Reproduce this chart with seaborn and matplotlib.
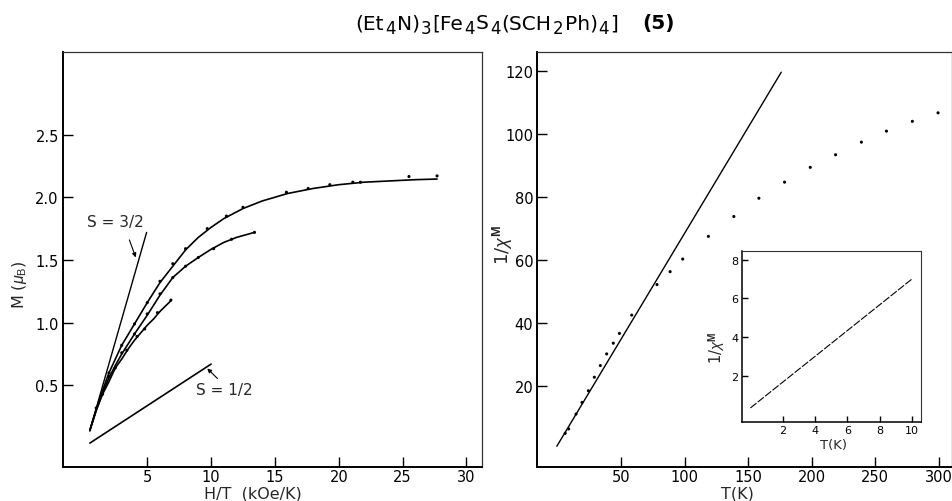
import numpy as np
import pandas as pd
import matplotlib
matplotlib.use("Agg")
import matplotlib.pyplot as plt
import seaborn as sns

# ---- magnetization M vs H/T (three fitted curves + measured points) ----
fit_hi_x = [0.5, 1.0, 1.5, 2.0, 2.5, 3.0, 4.0, 5.0, 6.0, 7.0, 8.0, 9.0, 10.0,
            11.0, 12.5, 14.0, 16.0, 18.0, 20.0, 22.0, 24.0, 26.0, 27.7]
fit_hi_y = [0.14, 0.31, 0.46, 0.60, 0.71, 0.82, 0.99, 1.16, 1.32, 1.45, 1.58,
            1.68, 1.76, 1.83, 1.91, 1.97, 2.03, 2.07, 2.10, 2.12, 2.13, 2.14, 2.145]
pts_hi_x = [1.0, 2.0, 3.0, 4.0, 5.0, 6.0, 7.0, 8.0, 9.7, 11.2, 12.5, 15.9,
            17.6, 19.3, 21.1, 21.7, 25.5, 27.7]
pts_hi_y = [0.32, 0.60, 0.82, 0.99, 1.16, 1.33, 1.47, 1.59, 1.75, 1.85, 1.92,
            2.04, 2.07, 2.10, 2.12, 2.12, 2.165, 2.17]

fit_mid_x = [0.5, 1.0, 1.5, 2.0, 2.5, 3.0, 4.0, 5.0, 6.0, 7.0, 8.0, 9.0, 10.0,
             11.0, 12.0, 13.4]
fit_mid_y = [0.14, 0.30, 0.44, 0.56, 0.66, 0.75, 0.91, 1.06, 1.22, 1.36, 1.45,
             1.52, 1.585, 1.64, 1.68, 1.72]
pts_mid_x = [2.0, 3.0, 4.0, 5.0, 6.0, 7.0, 8.0, 9.0, 10.2, 11.6, 13.4]
pts_mid_y = [0.57, 0.76, 0.91, 1.07, 1.23, 1.36, 1.45, 1.52, 1.59, 1.665, 1.72]

fit_lo_x = [0.5, 1.0, 1.5, 2.0, 2.5, 3.0, 3.5, 4.0, 4.5, 5.0, 5.5, 6.0, 6.5, 6.85]
fit_lo_y = [0.14, 0.30, 0.43, 0.53, 0.64, 0.71, 0.79, 0.86, 0.92, 0.98, 1.03,
            1.09, 1.14, 1.175]
pts_lo_x = [1.5, 2.5, 3.4, 4.2, 4.8, 5.8, 6.85]
pts_lo_y = [0.43, 0.64, 0.78, 0.89, 0.95, 1.08, 1.18]

# low-field limits for S = 3/2 and S = 1/2
s32_x = [0.5, 4.95]
s32_y = [0.14, 1.72]
s12_x = [0.5, 10.0]
s12_y = [0.04, 0.67]

# ---- inverse susceptibility vs T ----
chi_T = [6.1, 8.8, 14.6, 19.3, 24.3, 29.0, 33.7, 38.7, 43.9, 48.7, 58.4, 78.3,
         88.6, 98.5, 118.7, 138.7, 158.4, 178.6, 198.8, 218.7, 239.0, 258.7,
         279.1, 299.3]
chi_inv = [4.9, 6.3, 11.0, 14.7, 18.4, 22.7, 26.4, 30.1, 33.5, 36.6, 42.4, 52.1,
           56.2, 60.2, 67.4, 73.7, 79.5, 84.6, 89.3, 93.3, 97.3, 100.8, 103.9,
           106.6]
curie_T = [-0.5, 176.0]
curie_inv = [0.8, 119.5]

# inset: low temperature range
ins_T = [0.0, 10.05]
ins_inv = [0.33, 7.03]

# formula title, split into normal / subscript pieces
title_parts = [("(Et", 0), ("4", 1), ("N)", 0), ("3", 1), ("[Fe", 0), ("4", 1),
               ("S", 0), ("4", 1), ("(SCH", 0), ("2", 1), ("Ph)", 0), ("4", 1),
               ("]", 0)]
title_tag = "(5)"

sns.set_style("white")
plt.rcParams["font.family"] = ["DejaVu Sans"]
plt.rcParams["mathtext.fontset"] = "custom"
plt.rcParams["mathtext.rm"] = "Liberation Sans"
plt.rcParams["mathtext.it"] = "Liberation Sans:italic"
plt.rcParams["mathtext.bf"] = "Liberation Sans:bold"

W, H = 953, 502
fig = plt.figure(figsize=(W / 100, H / 100), dpi=100)
axL = fig.add_axes([0.0661, 0.0683, 0.4394, 0.8267])
axR = fig.add_axes([0.5640, 0.0683, 0.4346, 0.8267])
axI = fig.add_axes([0.7789, 0.1568, 0.1872, 0.3418])

K = "black"


def style_axes(ax, fs, lw_main=1.4, lw_other=0.9, tlen=7, xpad=1.5, ypad=3):
    for side in ("left", "bottom"):
        ax.spines[side].set_linewidth(lw_main)
        ax.spines[side].set_color(K)
    for side in ("top", "right"):
        ax.spines[side].set_linewidth(lw_other)
        ax.spines[side].set_color("#333333")
    ax.tick_params(direction="in", length=tlen, width=1.0, colors=K,
                   labelsize=fs, top=False, right=False,
                   bottom=True, left=True)
    ax.tick_params(axis="x", pad=xpad)
    ax.tick_params(axis="y", pad=ypad)
    ax.set_facecolor("white")


def curve(ax, xs, ys, lw=1.2, **kw):
    df = pd.DataFrame({"x": xs, "y": ys})
    sns.lineplot(data=df, x="x", y="y", ax=ax, color=K, lw=lw, sort=False,
                 estimator=None, legend=False, **kw)


def dots(ax, xs, ys, s=5):
    df = pd.DataFrame({"x": xs, "y": ys})
    sns.scatterplot(data=df, x="x", y="y", ax=ax, color=K, s=s,
                    edgecolor="none", legend=False)


# left panel
curve(axL, fit_hi_x, fit_hi_y)
curve(axL, fit_mid_x, fit_mid_y)
curve(axL, fit_lo_x, fit_lo_y)
dots(axL, pts_hi_x, pts_hi_y)
dots(axL, pts_mid_x, pts_mid_y)
dots(axL, pts_lo_x, pts_lo_y)
curve(axL, s32_x, s32_y, lw=1.0)
curve(axL, s12_x, s12_y, lw=1.2)

axL.set_xlim(-1.6, 31.2)
axL.set_ylim(-0.148, 3.16)
axL.set_xticks([5, 10, 15, 20, 25, 30])
axL.set_yticks([0.5, 1.0, 1.5, 2.0, 2.5])
axL.set_yticklabels(["0.5", "1.0", "1.5", "2.0", "2.5"])
style_axes(axL, 10.5)
axL.set_xlabel("H/T  (kOe/K)", fontsize=11.5)
axL.xaxis.set_label_coords(0.4526, -0.063)
axL.xaxis.label.set_va("center")
axL.set_ylabel(r"M ($\mu_\mathrm{B}$)", fontsize=11.5)
axL.yaxis.set_label_coords(-0.103, 0.44)
axL.yaxis.label.set_va("center")

arrow = dict(arrowstyle="-|>", lw=0.8, color=K, mutation_scale=6,
             shrinkA=0, shrinkB=0)
axL.text(0.26, 1.81, "S = 3/2", fontsize=11, va="center", ha="left")
axL.annotate("", xy=(4.1, 1.52), xytext=(3.6, 1.66), arrowprops=arrow)
axL.text(8.8, 0.47, "S = 1/2", fontsize=11, va="center", ha="left")
axL.annotate("", xy=(9.7, 0.635), xytext=(10.5, 0.555), arrowprops=arrow)

# right panel
curve(axR, curie_T, curie_inv, lw=1.0)
dots(axR, chi_T, chi_inv)
axR.set_xlim(-15.7, 310)
axR.set_ylim(-5.7, 126)
axR.set_xticks([50, 100, 150, 200, 250, 300])
axR.set_yticks([20, 40, 60, 80, 100, 120])
style_axes(axR, 10.5)
axR.set_xlabel("T(K)", fontsize=11.5)
axR.xaxis.set_label_coords(0.4817, -0.063)
axR.xaxis.label.set_va("center")
axR.set_ylabel(r"1/$\chi^{\mathbf{M}}$", fontsize=13)
axR.yaxis.set_label_coords(-0.0845, 0.537)
axR.yaxis.label.set_va("center")

# inset
curve(axI, ins_T, ins_inv, lw=0.8, linestyle=(0, (7, 1.5)))
axI.set_xlim(-0.5, 10.54)
axI.set_ylim(-0.41, 8.46)
axI.set_xticks([2, 4, 6, 8, 10])
axI.set_yticks([2, 4, 6, 8])
style_axes(axI, 8, lw_main=1.1, lw_other=0.8, tlen=4, xpad=2, ypad=3)
axI.set_xlabel("T(K)", fontsize=9.5)
axI.xaxis.set_label_coords(0.514, -0.132)
axI.xaxis.label.set_va("center")
axI.set_ylabel(r"1/$\chi^{\mathbf{M}}$", fontsize=10.5)
axI.yaxis.set_label_coords(-0.139, 0.442)
axI.yaxis.label.set_va("center")

# title: formula laid out piece by piece with large subscripts
renderer = fig.canvas.get_renderer()
base_px = H - 29.5       # baseline, pixels from bottom
sub_drop = 5.0           # subscript lowering, pixels
main_fs, sub_fs = 14.5, 12.0
x0, x_end = 350.0, 613.0
tag_gap = 24.0

pieces = []
for txt, is_sub in title_parts:
    t = fig.text(0, 0, txt, fontsize=sub_fs if is_sub else main_fs,
                 family="DejaVu Sans", color=K, ha="left", va="baseline")
    pieces.append((t, is_sub, t.get_window_extent(renderer).width))
total = sum(w for _, _, w in pieces)
gap = float(np.clip((x_end - x0 - total) / (len(pieces) - 1), 0.0, 1.5))
span = total + gap * (len(pieces) - 1)
tag = fig.text(0, 0, title_tag, fontsize=main_fs, fontweight="bold",
               family="DejaVu Sans", color=K, ha="left", va="baseline")
tag_w = tag.get_window_extent(renderer).width
full = span + tag_gap + tag_w
x = 0.5 * (x0 + 680.0) - 0.5 * full
for t, is_sub, w in pieces:
    y = base_px - (sub_drop if is_sub else 0.0)
    t.set_position((x / W, y / H))
    x += w + gap
tag.set_position(((x - gap + tag_gap) / W, base_px / H))

fig.savefig("out.png", dpi=100, facecolor="white")
